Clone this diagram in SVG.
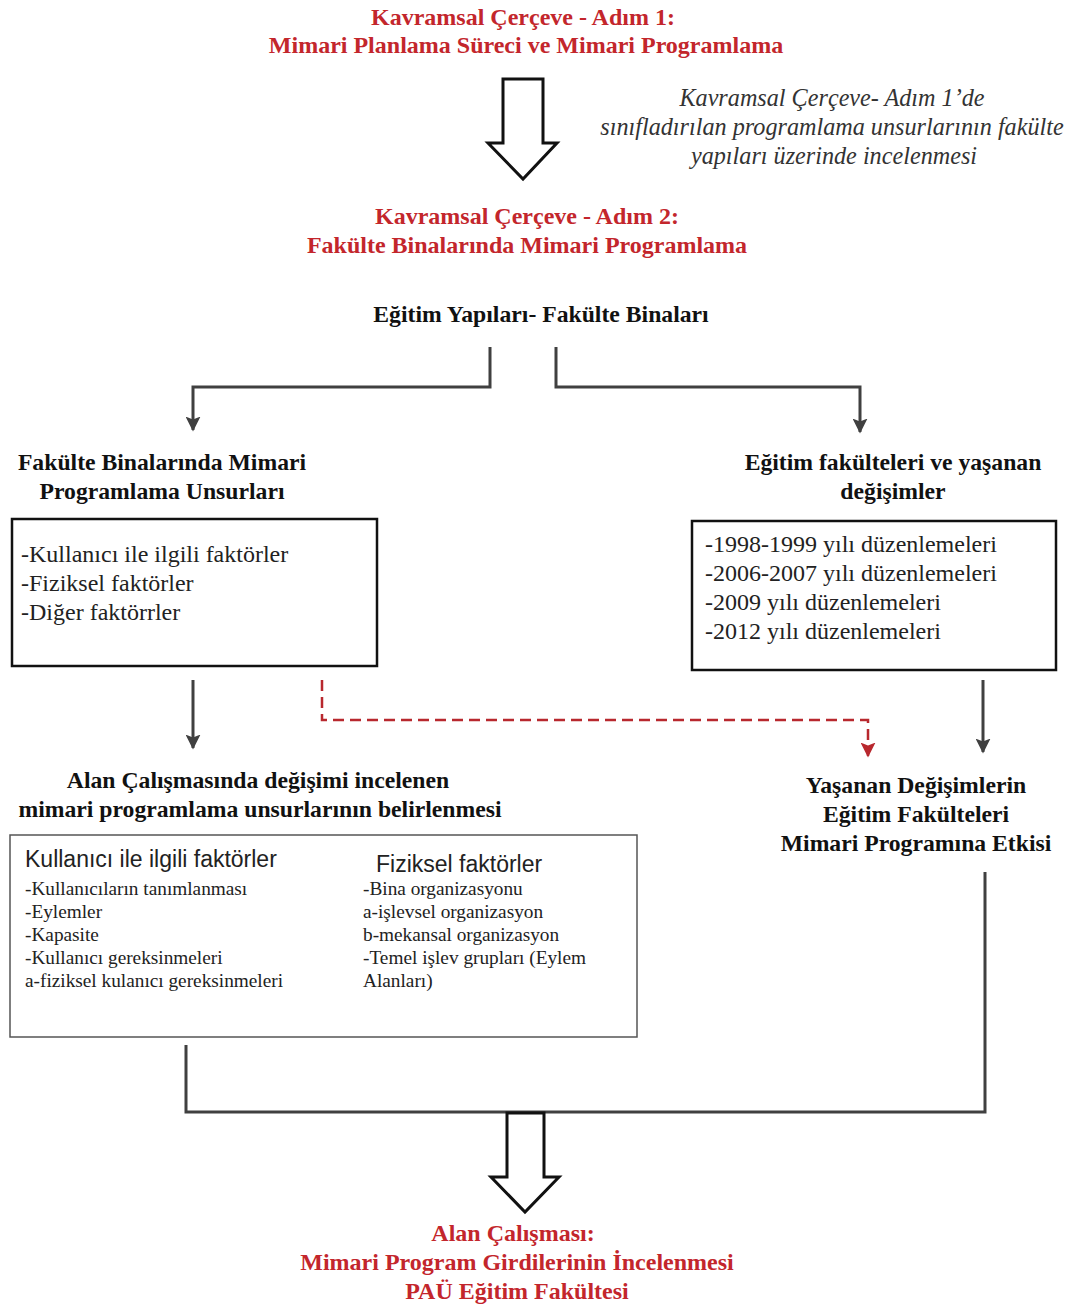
<svg xmlns="http://www.w3.org/2000/svg" width="1073" height="1305" viewBox="0 0 1073 1305">
<defs>
<style>
.red{font-family:"Liberation Serif","Times New Roman",serif;font-weight:bold;font-size:24px;fill:#c3262c;text-anchor:middle}
.hd{font-family:"Liberation Serif","Times New Roman",serif;font-weight:bold;font-size:23.7px;fill:#111;text-anchor:middle}
.it{font-family:"Liberation Serif","Times New Roman",serif;font-style:italic;font-size:24.2px;fill:#333;text-anchor:middle}
.tx{font-family:"Liberation Serif","Times New Roman",serif;font-size:24px;fill:#222}
.sm{font-family:"Liberation Serif","Times New Roman",serif;font-size:19.3px;fill:#222}
.sub{font-family:"Liberation Sans Narrow","Liberation Sans",Arial,sans-serif;font-size:23px;fill:#222}
.box{fill:#fff;stroke:#111;stroke-width:2.5}
.box2{fill:#fff;stroke:#555;stroke-width:1.5}
.ln{fill:none;stroke:#404040;stroke-width:3}
.dash{fill:none;stroke:#b8282e;stroke-width:2.5;stroke-dasharray:11 6}
.big{fill:#fff;stroke:#111;stroke-width:3;stroke-linejoin:miter}
</style>
<marker id="ah" viewBox="0 0 10 10" refX="9" refY="5" markerWidth="5" markerHeight="5" orient="auto" markerUnits="strokeWidth">
<path d="M0,0 L10,5 L0,10 L2,5 z" fill="#404040"/>
</marker>
<marker id="ahr" viewBox="0 0 10 10" refX="9" refY="5" markerWidth="6" markerHeight="6" orient="auto" markerUnits="strokeWidth">
<path d="M0,0 L10,5 L0,10 L2,5 z" fill="#b8282e"/>
</marker>
</defs>
<rect width="1073" height="1305" fill="#fff"/>

<g id="step1">
<text class="red" x="523" y="25">Kavramsal Çerçeve - Adım 1:</text>
<text class="red" x="526" y="53">Mimari Planlama Süreci ve Mimari Programlama</text>
</g>

<g id="note">
<text class="it" x="832" y="106">Kavramsal Çerçeve- Adım 1’de</text>
<text class="it" x="832" y="135">sınıfladırılan programlama unsurlarının fakülte</text>
<text class="it" x="834" y="164">yapıları üzerinde incelenmesi</text>
</g>

<g id="step2">
<text class="red" x="527" y="224">Kavramsal Çerçeve - Adım 2:</text>
<text class="red" x="527" y="253">Fakülte Binalarında Mimari Programlama</text>
</g>

<g id="egitim-yapilari">
<text class="hd" x="541" y="322">Eğitim Yapıları- Fakülte Binaları</text>
</g>

<g id="left-head">
<text class="hd" x="162" y="470">Fakülte Binalarında Mimari</text>
<text class="hd" x="162" y="499">Programlama Unsurları</text>
</g>

<g id="left-box">
<rect class="box" x="12" y="519" width="365" height="147"/>
<text class="tx" x="21" y="562">-Kullanıcı ile ilgili faktörler</text>
<text class="tx" x="21" y="591">-Fiziksel faktörler</text>
<text class="tx" x="21" y="620">-Diğer faktörrler</text>
</g>

<g id="right-head">
<text class="hd" x="893" y="470">Eğitim fakülteleri ve yaşanan</text>
<text class="hd" x="893" y="499">değişimler</text>
</g>

<g id="right-box">
<rect class="box" x="692" y="521" width="364" height="149"/>
<text class="tx" x="705" y="552">-1998-1999 yılı düzenlemeleri</text>
<text class="tx" x="705" y="581">-2006-2007 yılı düzenlemeleri</text>
<text class="tx" x="705" y="610">-2009 yılı düzenlemeleri</text>
<text class="tx" x="705" y="639">-2012 yılı düzenlemeleri</text>
</g>

<g id="alan-head">
<text class="hd" x="258" y="788">Alan Çalışmasında değişimi incelenen</text>
<text class="hd" x="260" y="817">mimari programlama unsurlarının belirlenmesi</text>
</g>

<g id="alan-box">
<rect class="box2" x="10" y="835" width="627" height="202"/>
<text class="sub" x="25" y="867">Kullanıcı ile ilgili faktörler</text>
<text class="sm" x="25" y="895">-Kullanıcıların tanımlanması</text>
<text class="sm" x="25" y="918">-Eylemler</text>
<text class="sm" x="25" y="941">-Kapasite</text>
<text class="sm" x="25" y="964">-Kullanıcı gereksinmeleri</text>
<text class="sm" x="25" y="987">a-fiziksel kulanıcı gereksinmeleri</text>
<text class="sub" x="376" y="872">Fiziksel faktörler</text>
<text class="sm" x="363" y="895">-Bina organizasyonu</text>
<text class="sm" x="363" y="918">a-işlevsel organizasyon</text>
<text class="sm" x="363" y="941">b-mekansal organizasyon</text>
<text class="sm" x="363" y="964">-Temel işlev grupları (Eylem</text>
<text class="sm" x="363" y="987">Alanları)</text>
</g>

<g id="etki">
<text class="hd" x="916" y="793">Yaşanan Değişimlerin</text>
<text class="hd" x="916" y="822">Eğitim Fakülteleri</text>
<text class="hd" x="916" y="851">Mimari Programına Etkisi</text>
</g>

<g id="final">
<text class="red" x="513" y="1241">Alan Çalışması:</text>
<text class="red" x="517" y="1270">Mimari Program Girdilerinin İncelenmesi</text>
<text class="red" x="517" y="1299">PAÜ Eğitim Fakültesi</text>
</g>

<g id="connectors">
<path class="big" d="M503,79 H543 V143 H557 L523,179 L488,143 H503 Z"/>
<path class="ln" d="M490,347 V387 H193 V430" marker-end="url(#ah)"/>
<path class="ln" d="M556,347 V387 H860 V432" marker-end="url(#ah)"/>
<path class="ln" d="M193,680 V748" marker-end="url(#ah)"/>
<path class="ln" d="M983,680 V752" marker-end="url(#ah)"/>
<path class="dash" d="M322,680 V720 H868 V756" marker-end="url(#ahr)"/>
<path class="ln" d="M186,1045 V1112 H985 V872"/>
<path class="big" d="M507,1113 H544 V1177 H559 L525,1212 L491,1177 H507 Z"/>
</g>
</svg>
